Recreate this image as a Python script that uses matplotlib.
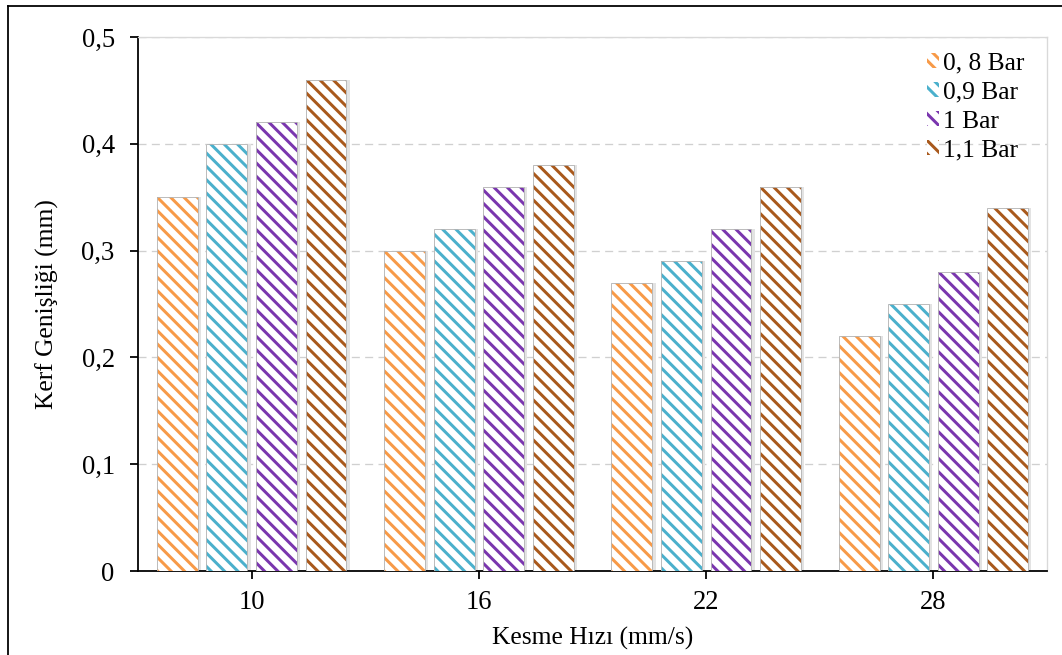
import numpy as np
import matplotlib
matplotlib.use("Agg")
import matplotlib.pyplot as plt
from matplotlib.ticker import FuncFormatter

speeds = ["10", "16", "22", "28"]
labels = ["0, 8 Bar", "0,9 Bar", "1 Bar", "1,1 Bar"]
bar_08 = [0.35, 0.30, 0.27, 0.22]
bar_09 = [0.40, 0.32, 0.29, 0.25]
bar_10 = [0.42, 0.36, 0.32, 0.28]
bar_11 = [0.46, 0.38, 0.36, 0.34]
colors = ["#F79A48", "#4BB0CC", "#7A36AE", "#A9591C"]

plt.rcParams['font.family'] = ['Liberation Serif', 'DejaVu Serif']
plt.rcParams['hatch.linewidth'] = 2.7

DPI = 80
fig = plt.figure(figsize=(1062 / DPI, 655 / DPI), dpi=DPI)
ax = fig.add_axes([0.130, 0.128, 0.856, 0.8155])

x = np.arange(len(speeds))
pitch = 0.218
width = 0.18
series = [bar_08, bar_09, bar_10, bar_11]
for i, vals in enumerate(series):
    pos = x + (i - 1.5) * pitch
    # soft shadow
    ax.bar(pos + 0.008, vals, width + 0.012, color="#e3e3e3", zorder=2)
    ax.bar(pos, vals, width, color="white", edgecolor=colors[i], hatch="\\\\",
           linewidth=0, zorder=3, label=labels[i])
    ax.bar(pos, vals, width, fill=False, edgecolor="#b5b5b5", linewidth=0.8, zorder=4)

ax.set_xlim(-0.5, 3.5)
ax.set_ylim(0, 0.5)
ax.set_xticks(x)
ax.set_xticklabels(speeds)
ax.set_yticks(np.arange(0, 0.51, 0.1))
ax.yaxis.set_major_formatter(FuncFormatter(lambda v, p: "0" if v == 0 else f"{v:.1f}".replace(".", ",")))
ax.tick_params(axis="both", labelsize=24, length=7, width=1.6, direction="out")
ax.tick_params(axis="y", pad=14)
ax.tick_params(axis="x", pad=10)
ax.yaxis.grid(True, linestyle=(0, (6, 4)), color="#d0d0d0", linewidth=1.2, zorder=0)
ax.set_axisbelow(True)

for s in ["top", "right"]:
    ax.spines[s].set_color("#d9d9d9")
    ax.spines[s].set_linewidth(1.2)
for s in ["left", "bottom"]:
    ax.spines[s].set_linewidth(1.6)

ax.set_xlabel("Kesme Hızı (mm/s)", fontsize=23, labelpad=11)
ax.set_ylabel("Kerf Genişliği (mm)", fontsize=23, labelpad=20)

ax.legend(loc="upper right", bbox_to_anchor=(0.992, 1.0), frameon=False, fontsize=23,
          handlelength=0.5, handleheight=0.5, handletextpad=0.15, labelspacing=0.28,
          borderaxespad=0.2)

# outer border
fig.add_artist(plt.Line2D([8 / 1062, 8 / 1062], [0, 1 - 6 / 655], color="black", lw=1.6,
                          transform=fig.transFigure))
fig.add_artist(plt.Line2D([8 / 1062, 1], [1 - 6 / 655, 1 - 6 / 655], color="black", lw=1.6,
                          transform=fig.transFigure))

fig.savefig("out.png", dpi=DPI)
